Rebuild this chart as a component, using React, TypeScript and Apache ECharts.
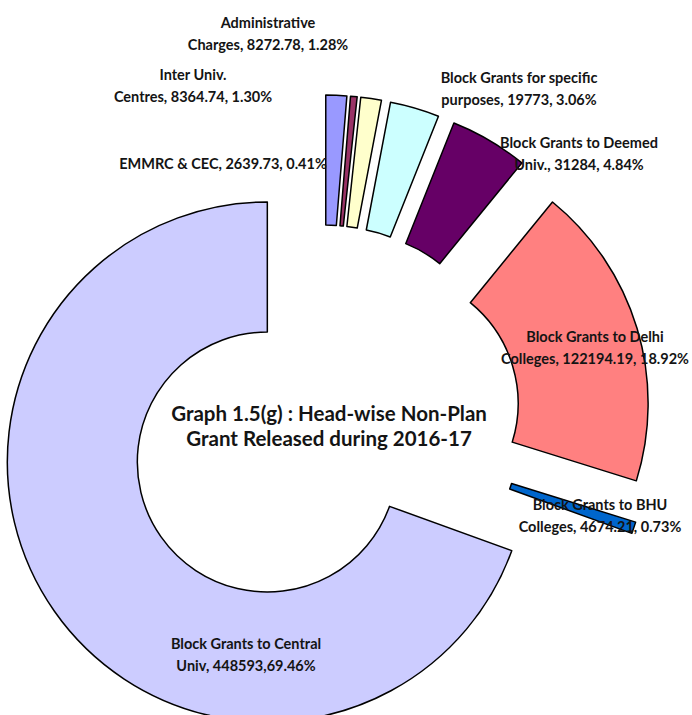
import React, { useEffect, useRef } from "react";
import * as echarts from "echarts";

const categories = [
  "Inter Univ. Centres",
  "EMMRC & CEC",
  "Administrative Charges",
  "Block Grants for specific purposes",
  "Block Grants to Deemed Univ.",
  "Block Grants to Delhi Colleges",
  "Block Grants to BHU Colleges",
  "Block Grants to Central Univ",
];
const labelHeads = [
  "Inter Univ.\nCentres",
  "EMMRC & CEC",
  "Administrative\nCharges",
  "Block Grants for specific\npurposes",
  "Block Grants to Deemed\nUniv.",
  "Block Grants to Delhi\nColleges",
  "Block Grants to BHU\nColleges",
  "Block Grants to Central\nUniv",
];
const values = [8364.74, 2639.73, 8272.78, 19773, 31284, 122194.19, 4674.21, 448593];
const percents = ["1.30%", "0.41%", "1.28%", "3.06%", "4.84%", "18.92%", "0.73%", "69.46%"];
const separators = [", ", ", ", ", ", ", ", ", ", ", ", ", ", ","];
const titleLines = ["Graph 1.5(g) : Head-wise Non-Plan", "Grant Released during 2016-17"];

const colors = ["#9999FF", "#993366", "#FFFFCC", "#CCFFFF", "#660066", "#FF8080", "#0066CC", "#CCCCFF"];
const labelPos: [number, number][] = [
  [193, 85],
  [223, 163],
  [268, 33],
  [519, 88],
  [579, 153],
  [595, 347],
  [600, 515],
  [246, 654],
];

export default function App() {
  const ref = useRef<HTMLDivElement>(null);
  useEffect(() => {
    if (!ref.current) return;
    const chart = echarts.init(ref.current, null, { renderer: "svg" });
    const font = "Lato, 'Open Sans', sans-serif";
    const labelGraphics = categories.map((_, i) => ({
      type: "text",
      x: labelPos[i][0],
      y: labelPos[i][1],
      z: 100,
      style: {
        text: `${labelHeads[i]}, ${values[i]}${separators[i]}${percents[i]}`,
        fontFamily: font,
        fontWeight: "bold",
        fontSize: 14.5,
        lineHeight: 22,
        fill: "#141414",
        align: "center",
        verticalAlign: "middle",
      },
    }));
    chart.setOption({
      animation: false,
      backgroundColor: "#ffffff",
      graphic: [
        {
          type: "text",
          x: 329,
          y: 425,
          z: 100,
          style: {
            text: titleLines.join("\n"),
            fontFamily: font,
            fontWeight: "bold",
            fontSize: 20.5,
            lineHeight: 25,
            fill: "#141414",
            align: "center",
            verticalAlign: "middle",
          },
        },
        ...labelGraphics,
      ],
      series: [
        {
          type: "pie",
          center: [323, 423],
          radius: [130, 260],
          startAngle: 90,
          clockwise: true,
          selectedMode: "multiple",
          selectedOffset: 68,
          avoidLabelOverlap: false,
          emphasis: { disabled: true },
          itemStyle: { borderColor: "#000", borderWidth: 1.5 },
          select: { itemStyle: { borderColor: "#000", borderWidth: 1.5 } },
          labelLine: { show: false },
          label: { show: false },
          data: categories.map((name, i) => ({
            name,
            value: values[i],
            selected: true,
            itemStyle: { color: colors[i] },
          })),
        },
      ],
    });
    return () => chart.dispose();
  }, []);
  return (
    <div
      ref={ref}
      style={{ position: "absolute", left: 0, top: 0, width: 692, height: 715 }}
    />
  );
}
